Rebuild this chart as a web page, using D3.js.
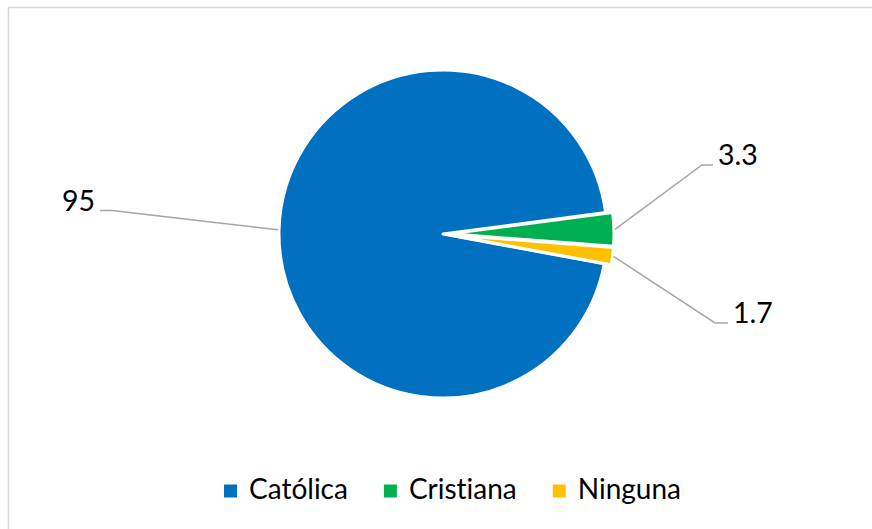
<!DOCTYPE html>
<html>
<head>
<meta charset="utf-8">
<script src="https://cdn.jsdelivr.net/npm/d3@7"></script>
<style>
  html, body { margin: 0; padding: 0; background: #fff; }
  svg { display: block; }
  text { font-family: Lato, "Open Sans", sans-serif; fill: #000; font-variant-ligatures: none; }
</style>
</head>
<body>
<svg id="chart" width="872" height="529"></svg>
<script>
// Religion shares (%)
const categories = ["Católica", "Cristiana", "Ninguna"];
const values = [95, 3.3, 1.7];
const valueLabels = ["95", "3.3", "1.7"];
const colors = ["#0070C0", "#00B050", "#FFC000"];

const W = 872, H = 529;
const cx = 443, cy = 234, R = 164;
const explode = [0, 7, 7];
const startDeg = 100.5;

const svg = d3.select("#chart");

// Chart area frame
svg.append("rect")
  .attr("x", 8.5).attr("y", 7.5)
  .attr("width", W + 10).attr("height", H + 10)
  .attr("fill", "#fff")
  .attr("stroke", "#D9D9D9").attr("stroke-width", 1.5);

const toRad = d => d * Math.PI / 180;
const pie = d3.pie().sort(null).value(d => d)
  .startAngle(toRad(startDeg)).endAngle(toRad(startDeg + 360));
const arcs = pie(values);
const arc = d3.arc().innerRadius(0).outerRadius(R);

const g = svg.append("g").attr("transform", `translate(${cx},${cy})`);

g.selectAll("path.slice")
  .data(arcs)
  .join("path")
  .attr("class", "slice")
  .attr("d", arc)
  .attr("fill", (d, i) => colors[i])
  .attr("stroke", "#fff")
  .attr("stroke-width", 3)
  .attr("stroke-linejoin", "round")
  .attr("transform", (d, i) => {
    const m = (d.startAngle + d.endAngle) / 2;
    return `translate(${explode[i] * Math.sin(m)},${-explode[i] * Math.cos(m)})`;
  });

// Data labels with leader lines
const labelPos = [
  { x: 95, y: 210.5, anchor: "end", elbow: 12 },
  { x: 718, y: 165, anchor: "start", elbow: 11 },
  { x: 733, y: 323, anchor: "start", elbow: 13 }
];

arcs.forEach((d, i) => {
  const m = (d.startAngle + d.endAngle) / 2;
  const r = R + explode[i] + 1;
  const sx = cx + r * Math.sin(m), sy = cy - r * Math.cos(m);
  const lp = labelPos[i];
  const ex = lp.anchor === "end" ? lp.x + 5 : lp.x - 5;
  const kx = ex + (lp.anchor === "end" ? lp.elbow : -lp.elbow);
  svg.append("polyline")
    .attr("points", `${sx},${sy} ${kx},${lp.y} ${ex},${lp.y}`)
    .attr("fill", "none")
    .attr("stroke", "#A6A6A6")
    .attr("stroke-width", 1.5);
  svg.append("text")
    .attr("x", lp.x).attr("y", lp.y)
    .attr("text-anchor", lp.anchor)
    .attr("font-size", 28.5)
    .text(valueLabels[i]);
});

// Legend
const legend = svg.append("g");
const items = legend.selectAll("g.item")
  .data(categories)
  .join("g").attr("class", "item");
items.append("rect")
  .attr("width", 13).attr("height", 13)
  .attr("y", -14)
  .attr("fill", (d, i) => colors[i]);
items.append("text")
  .attr("x", 25).attr("y", 0)
  .attr("font-size", 28)
  .text(d => d);

let x = 0;
const gap = 36;
items.each(function () {
  const tw = this.querySelector("text").getComputedTextLength();
  d3.select(this).attr("transform", `translate(${x},0)`);
  x += 25 + tw + gap;
});
const totalW = x - gap;
legend.attr("transform", `translate(${452.5 - totalW / 2},${498.5})`);
</script>
</body>
</html>
